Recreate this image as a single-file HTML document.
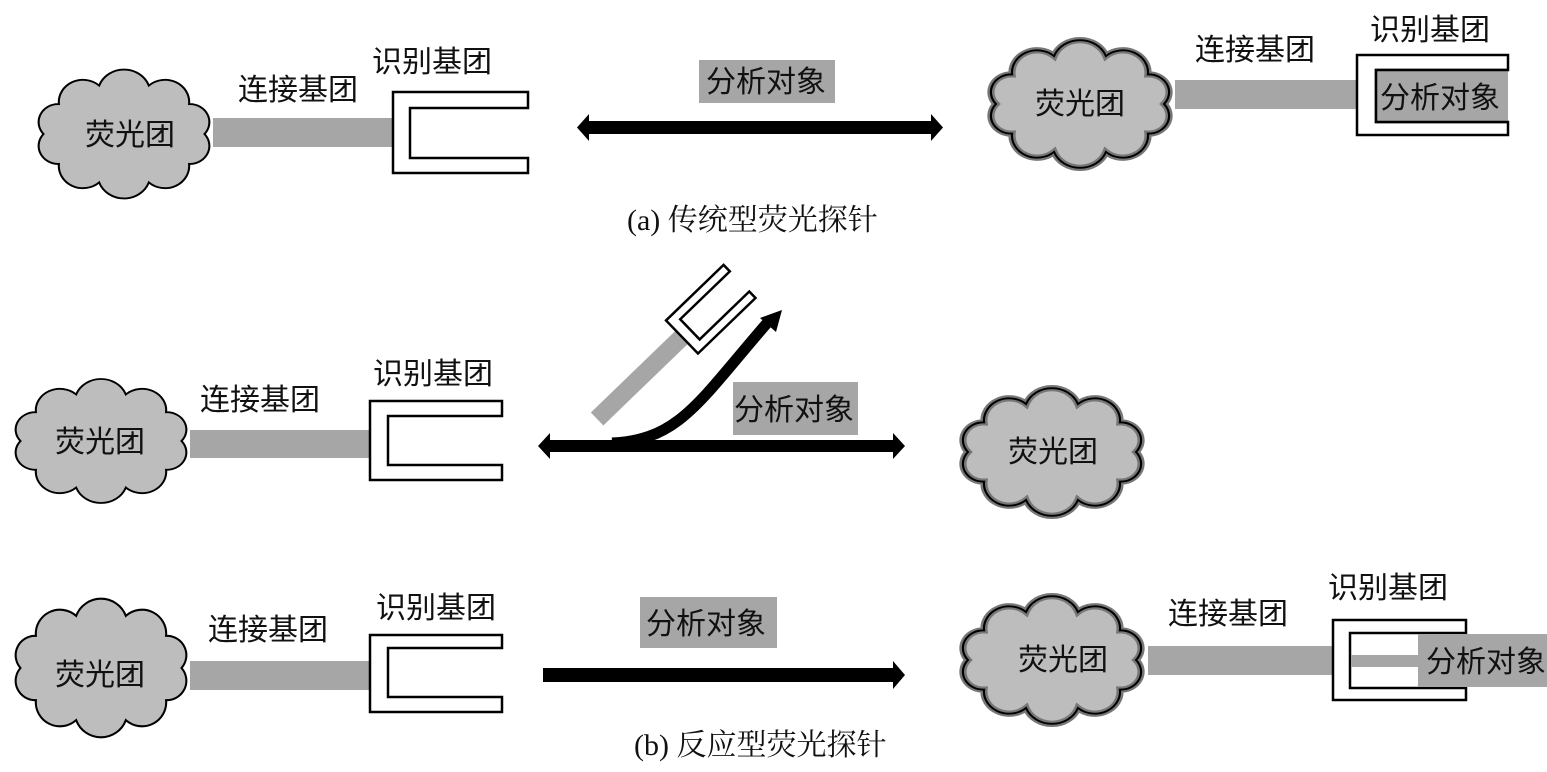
<!DOCTYPE html>
<html><head><meta charset="utf-8"><style>
html,body{margin:0;padding:0;background:#fff;}
svg{display:block;}
text{font-family:"Liberation Sans","Noto Sans CJK SC",sans-serif;font-size:30px;fill:#111;}
.cap{font-family:"Liberation Serif","Noto Serif CJK SC",serif;font-size:30px;}
</style></head><body>
<svg width="1547" height="772" viewBox="0 0 1547 772" xmlns="http://www.w3.org/2000/svg">
<defs>
<path id="cl" d="M70,0 A17,17 0 0,1 56.6,28.2 A21,21 0 0,1 21.6,45.7 A23,23 0 0,1 -21.6,45.7 A21,21 0 0,1 -56.6,28.2 A17,17 0 0,1 -70,0 A17,17 0 0,1 -56.6,-28.2 A21,21 0 0,1 -21.6,-45.7 A23,23 0 0,1 21.6,-45.7 A21,21 0 0,1 56.6,-28.2 A17,17 0 0,1 70,0 Z"/>
</defs>
<g fill="#bdbdbd" stroke="#000" stroke-width="1.8">
<use href="#cl" transform="translate(124,134) scale(1.15,1.06)"/>
<use href="#cl" transform="translate(101,441) scale(1.15,1.02)"/>
<use href="#cl" transform="translate(101,668) scale(1.15,1.14)"/>
</g>
<g fill="#bdbdbd" stroke="#777" stroke-width="6">
<use href="#cl" transform="translate(1080,104) scale(1.2,1.05)"/>
<use href="#cl" transform="translate(1052,452) scale(1.2,1.05)"/>
<use href="#cl" transform="translate(1052,660) scale(1.2,1.05)"/>
</g>
<g fill="none" stroke="#000" stroke-width="1.8">
<use href="#cl" transform="translate(1080,104) scale(1.2,1.05)"/>
<use href="#cl" transform="translate(1052,452) scale(1.2,1.05)"/>
<use href="#cl" transform="translate(1052,660) scale(1.2,1.05)"/>
</g>

<!-- row a left -->
<rect x="213" y="118" width="180" height="29" fill="#a6a6a6"/>
<path d="M528,92 H393 V173 H528 V158 H410 V108 H528 Z" fill="#fff" stroke="#000" stroke-width="2.5"/>
<text x="85" y="145">荧光团</text>
<text x="238" y="100">连接基团</text>
<text x="372" y="72">识别基团</text>
<rect x="699" y="60" width="136" height="43" fill="#a6a6a6"/>
<text x="706" y="92">分析对象</text>
<path d="M577,127.5 L589,114 L589,121 L931,121 L931,114 L943,127.5 L931,141 L931,134 L589,134 L589,141 Z" fill="#000"/>
<!-- row a right -->
<rect x="1175" y="80" width="182" height="29" fill="#a6a6a6"/>
<path d="M1508,55 H1357 V135 H1508 V122 H1376 V70 H1508 Z" fill="#fff" stroke="#000" stroke-width="2.5"/>
<path d="M1508,70 H1376 V122 H1508" fill="#a6a6a6" stroke="#000" stroke-width="2.5"/>
<text x="1035" y="114">荧光团</text>
<text x="1195" y="60">连接基团</text>
<text x="1370" y="40">识别基团</text>
<text x="1380" y="108">分析对象</text>
<text class="cap" x="627" y="230">(a) 传统型荧光探针</text>

<!-- row b -->
<rect x="190" y="430" width="180" height="28" fill="#a6a6a6"/>
<path d="M502,401 H370 V480 H502 V465 H388 V416 H502 Z" fill="#fff" stroke="#000" stroke-width="2.5"/>
<text x="55" y="452">荧光团</text>
<text x="200" y="410">连接基团</text>
<text x="373" y="384">识别基团</text>
<rect x="733" y="382" width="125" height="53" fill="#a6a6a6"/>
<text x="734" y="420">分析对象</text>
<path d="M538,446 L550,433 L550,440 L893,440 L893,433 L905,446 L893,459 L893,452 L550,452 L550,459 Z" fill="#000"/>
<path d="M612,443 C680,440 700,400 768,322" fill="none" stroke="#000" stroke-width="11"/>
<path d="M782,310 L760,318 L776,332 Z" fill="#000"/>
<g transform="translate(682,337) rotate(-44)">
<rect x="-118" y="-9" width="118" height="18" fill="#a6a6a6"/>
<path d="M80,-23 H0 V23 H80 V14 H11 V-14 H80 Z" fill="#fff" stroke="#000" stroke-width="2.5"/>
</g>
<text x="1008" y="462">荧光团</text>

<!-- row c -->
<rect x="190" y="661" width="180" height="29" fill="#a6a6a6"/>
<path d="M502,635 H370 V712 H502 V697 H388 V648 H502 Z" fill="#fff" stroke="#000" stroke-width="2.5"/>
<text x="55" y="685">荧光团</text>
<text x="208" y="640">连接基团</text>
<text x="376" y="618">识别基团</text>
<rect x="640" y="597" width="137" height="51" fill="#a6a6a6"/>
<text x="646" y="634">分析对象</text>
<path d="M543,668 L893,668 L893,661 L905,675 L893,689 L893,682 L543,682 Z" fill="#000"/>
<rect x="1148" y="646" width="185" height="29" fill="#a6a6a6"/>
<path d="M1466,620 H1333 V700 H1466 V688 H1350 V633 H1466 Z" fill="#fff" stroke="#000" stroke-width="2.5"/>
<rect x="1351" y="655" width="70" height="12" fill="#a6a6a6"/>
<rect x="1418" y="634" width="129" height="53" fill="#a6a6a6"/>
<text x="1018" y="670">荧光团</text>
<text x="1168" y="624">连接基团</text>
<text x="1328" y="598">识别基团</text>
<text x="1426" y="672">分析对象</text>
<text class="cap" x="634" y="755">(b) 反应型荧光探针</text>
</svg>
</body></html>
